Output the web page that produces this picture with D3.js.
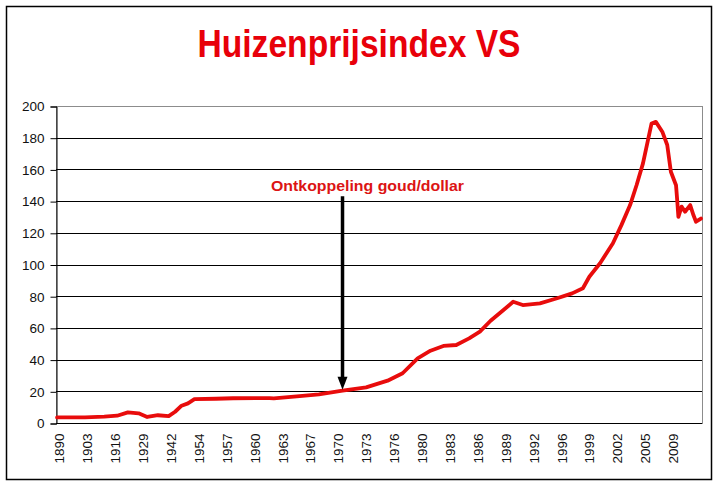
<!DOCTYPE html>
<html>
<head>
<meta charset="utf-8">
<script src="https://cdn.jsdelivr.net/npm/d3@7"></script>
<style>
  html, body { margin: 0; padding: 0; background: #fff; }
  svg { display: block; }
</style>
</head>
<body>
<svg id="chart" width="719" height="485"></svg>
<script>
// ---------------- data ----------------
const chartTitle = "Huizenprijsindex VS";
const annotationText = "Ontkoppeling goud/dollar";

// category axis: one category per observation (annual until 1953, quarterly afterwards)
const categoryCount = 301;
const labelStep = 13;
const xTickLabels = ["1890","1903","1916","1929","1942","1954","1957","1960","1963","1967",
  "1970","1973","1976","1980","1983","1986","1989","1992","1996","1999","2002","2005","2009"];

const yTicks = [0, 20, 40, 60, 80, 100, 120, 140, 160, 180, 200];

const obsIndex = [0, 13, 22, 28, 33, 38, 42, 47, 52, 55, 58, 61, 64, 74, 82, 99, 101, 113, 122,
  133, 144, 154, 161, 168, 174, 180, 186, 192, 197, 202, 208, 212.5, 217, 225, 233, 240, 245,
  248, 253, 259, 263, 267, 270, 273, 275.5, 277, 279, 282, 284.3, 286, 288.4, 289, 289.5, 291,
  292.6, 295, 296.5, 297.7, 300];
const obsValue = [3.5, 3.6, 4.0, 4.6, 6.7, 6.1, 3.8, 4.9, 4.3, 7.1, 10.9, 12.4, 15.0, 15.3, 15.6,
  15.7, 15.6, 17.0, 18.1, 20.4, 22.5, 26.7, 31.4, 40.8, 45.6, 48.6, 49.2, 53.4, 57.6, 64.5,
  71.3, 76.5, 74.4, 75.5, 78.7, 81.8, 85.0, 92.3, 100.8, 113.4, 125, 137.5, 150, 163.8, 179.6,
  189, 190, 183.8, 175.4, 158.5, 150, 139.6, 130, 136.5, 133.3, 137.5, 131.2, 127, 129];

// annotation arrow: category position and values (top, tip)
const arrowIndex = 133;
const arrowFrom = 143;
const arrowTo = 21;

// ---------------- chart ----------------
const svg = d3.select("#chart");
const plot = { left: 56, right: 702, top: 106, bottom: 423 };

const x = d3.scaleLinear()
  .domain([-0.5, categoryCount - 0.5])
  .range([plot.left, plot.right]);
const y = d3.scaleLinear()
  .domain([0, 200])
  .range([plot.bottom, plot.top]);

// outer frame
svg.append("rect")
  .attr("x", 6.5).attr("y", 6.5)
  .attr("width", 705).attr("height", 473)
  .attr("fill", "#fff").attr("stroke", "#000").attr("stroke-width", 1.5);

// title
svg.append("text")
  .attr("x", 359).attr("y", 57)
  .attr("text-anchor", "middle")
  .attr("font-family", "'Liberation Sans Narrow', 'Arial Narrow', 'Liberation Sans', Arial, sans-serif")
  .attr("font-weight", "bold")
  .attr("font-size", 38)
  .attr("textLength", 323)
  .attr("lengthAdjust", "spacingAndGlyphs")
  .attr("fill", "#e8000a")
  .text(chartTitle);

// plot area border (gray)
svg.append("rect")
  .attr("x", plot.left + 0.5).attr("y", plot.top + 0.5)
  .attr("width", plot.right - plot.left).attr("height", plot.bottom - plot.top)
  .attr("fill", "none").attr("stroke", "#8c8c8c").attr("stroke-width", 1);

// gridlines
svg.append("g")
  .selectAll("line")
  .data(yTicks.filter(d => d > 0 && d < 200))
  .join("line")
  .attr("x1", plot.left).attr("x2", plot.right)
  .attr("y1", d => Math.round(y(d)) + 0.5).attr("y2", d => Math.round(y(d)) + 0.5)
  .attr("stroke", "#000").attr("stroke-width", 1);

// y axis
const yAxis = d3.axisLeft(y).tickValues(yTicks).tickSize(6).tickPadding(6).tickFormat(d3.format("d"));
const gy = svg.append("g")
  .attr("transform", `translate(${plot.left + 0.5},0.5)`)
  .call(yAxis);
gy.select(".domain").attr("stroke", "#000");
gy.selectAll(".tick line").attr("stroke", "#000");
gy.selectAll(".tick text")
  .attr("font-family", "'Liberation Sans', Arial, sans-serif")
  .attr("font-size", 13.5)
  .attr("fill", "#111");

// x axis
const labelPositions = xTickLabels.map((_, i) => i * labelStep);
const xAxis = d3.axisBottom(x).tickValues(labelPositions).tickSize(0)
  .tickFormat((d, i) => xTickLabels[i]);
const gx = svg.append("g")
  .attr("transform", `translate(0,${plot.bottom + 0.5})`)
  .call(xAxis);
gx.select(".domain").attr("stroke", "#000").attr("d", `M${plot.left},0H${plot.right}`);
gx.selectAll(".tick text")
  .attr("font-family", "'Liberation Sans', Arial, sans-serif")
  .attr("font-size", 13.5)
  .attr("fill", "#111")
  .attr("text-anchor", "end")
  .attr("transform", "rotate(-90)")
  .attr("x", -10)
  .attr("y", 0)
  .attr("dy", "0.5em");

// data line
const line = d3.line()
  .x((d, i) => x(obsIndex[i]))
  .y(d => y(d))
  .curve(d3.curveLinear);
svg.append("path")
  .datum(obsValue)
  .attr("fill", "none")
  .attr("stroke", "#e80c0c")
  .attr("stroke-width", 3.8)
  .attr("stroke-linejoin", "round")
  .attr("stroke-linecap", "round")
  .attr("d", line);

// annotation arrow
const ax = x(arrowIndex);
svg.append("line")
  .attr("x1", ax).attr("x2", ax)
  .attr("y1", y(arrowFrom)).attr("y2", y(arrowTo) - 10)
  .attr("stroke", "#000").attr("stroke-width", 3.5);
svg.append("path")
  .attr("d", `M${ax - 5},${y(arrowTo) - 13}L${ax + 5},${y(arrowTo) - 13}L${ax},${y(arrowTo)}Z`)
  .attr("fill", "#000");

// annotation text
svg.append("text")
  .attr("x", ax + 25).attr("y", 191)
  .attr("text-anchor", "middle")
  .attr("font-family", "'Liberation Sans', Arial, sans-serif")
  .attr("font-weight", "bold")
  .attr("font-size", 15)
  .attr("textLength", 193)
  .attr("lengthAdjust", "spacingAndGlyphs")
  .attr("fill", "#dc1414")
  .text(annotationText);
</script>
</body>
</html>
